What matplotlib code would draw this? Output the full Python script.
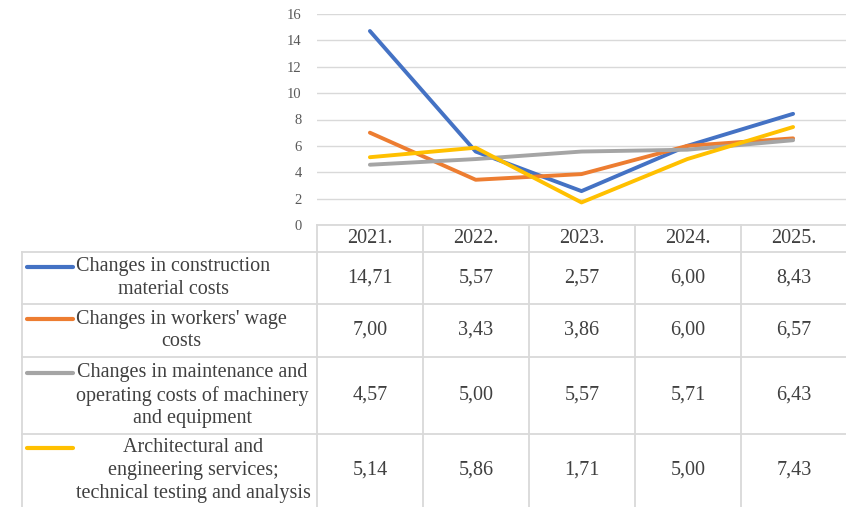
import numpy as np
import matplotlib.pyplot as plt

# years shown as table header and line categories
years = ["2021.", "2022.", "2023.", "2024.", "2025."]

# series labels (wrapped as in the data table)
series_labels = [
    "Changes in construction\nmaterial costs",
    "Changes in workers' wage\ncosts",
    "Changes in maintenance and\noperating costs of machinery\nand equipment",
    "Architectural and\nengineering services;\ntechnical testing and analysis",
]

material_costs = [14.71, 5.57, 2.57, 6.00, 8.43]
wage_costs = [7.00, 3.43, 3.86, 6.00, 6.57]
machinery_costs = [4.57, 5.00, 5.57, 5.71, 6.43]
engineering_services = [5.14, 5.86, 1.71, 5.00, 7.43]

series_values = [material_costs, wage_costs, machinery_costs, engineering_services]
colors = ["#4472C4", "#ED7D31", "#A5A5A5", "#FFC000"]

y_ticks = [0, 2, 4, 6, 8, 10, 12, 14, 16]

W, H = 846, 507
fig = plt.figure(figsize=(W / 100, H / 100), dpi=100)
plt.rcParams["font.family"] = ["Liberation Serif", "DejaVu Serif"]
text_color = "#404040"
grid_color = "#D9D9D9"

# table layout in pixels
col_left = 317
col_w = 106
table_left = 22
row_edges = [225, 252, 304, 357, 434, 507]

# line chart sits above the table, one category per table column
ax = fig.add_axes([col_left / W, 1 - row_edges[0] / H, (W - col_left) / W, (row_edges[0] - 14) / H])
x = np.arange(len(years))
for vals, c in zip(series_values, colors):
    ax.plot(x, vals, color=c, lw=2.8, solid_capstyle="round", solid_joinstyle="round", zorder=3)
ax.set_xlim(-0.5, len(years) - 0.5)
ax.set_ylim(0, 16)
ax.set_yticks(y_ticks)
ax.set_yticklabels([str(t) for t in y_ticks], fontsize=10.5, color="#595959")
ax.tick_params(axis="y", length=0, pad=11)
ax.set_xticks([])
ax.grid(axis="y", color=grid_color, lw=1)
ax.set_axisbelow(True)
for s in ax.spines.values():
    s.set_visible(False)
ax.patch.set_alpha(0)

# data table drawn in pixel coordinates
tab = fig.add_axes([0, 0, 1, 1], zorder=-1)
tab.set_xlim(0, W)
tab.set_ylim(H, 0)
tab.axis("off")

col_edges = [col_left + i * col_w for i in range(len(years) + 1)]
lw_t = 1.3
# header row
tab.plot([col_left, W], [row_edges[0], row_edges[0]], color=grid_color, lw=lw_t)
for cx in col_edges:
    tab.plot([cx, cx], [row_edges[0], H], color=grid_color, lw=lw_t)
for ry in row_edges[1:-1]:
    tab.plot([table_left, W], [ry, ry], color=grid_color, lw=lw_t)
tab.plot([table_left, table_left], [row_edges[1], H], color=grid_color, lw=lw_t)

fs = 14.5
for i, yr in enumerate(years):
    cx = col_left + (i + 0.5) * col_w
    tab.text(cx, (row_edges[0] + row_edges[1]) / 2, yr, ha="center", va="center",
             fontsize=fs, color=text_color)

line_h = 23
for r, (label, vals, c) in enumerate(zip(series_labels, series_values, colors)):
    cy = (row_edges[r + 1] + row_edges[r + 2]) / 2
    n = label.count("\n") + 1
    first_y = cy - (n - 1) / 2 * line_h
    tab.plot([27, 73], [first_y, first_y], color=c, lw=3, solid_capstyle="round")
    tab.text(76, cy, label, ha="left", va="center", multialignment="center",
             fontsize=fs, color=text_color, linespacing=1.26)
    for i, v in enumerate(vals):
        cx = col_left + (i + 0.5) * col_w
        tab.text(cx, cy, f"{v:.2f}".replace(".", ","), ha="center", va="center",
                 fontsize=fs, color=text_color)

fig.savefig("out.png", dpi=100, facecolor="white")
